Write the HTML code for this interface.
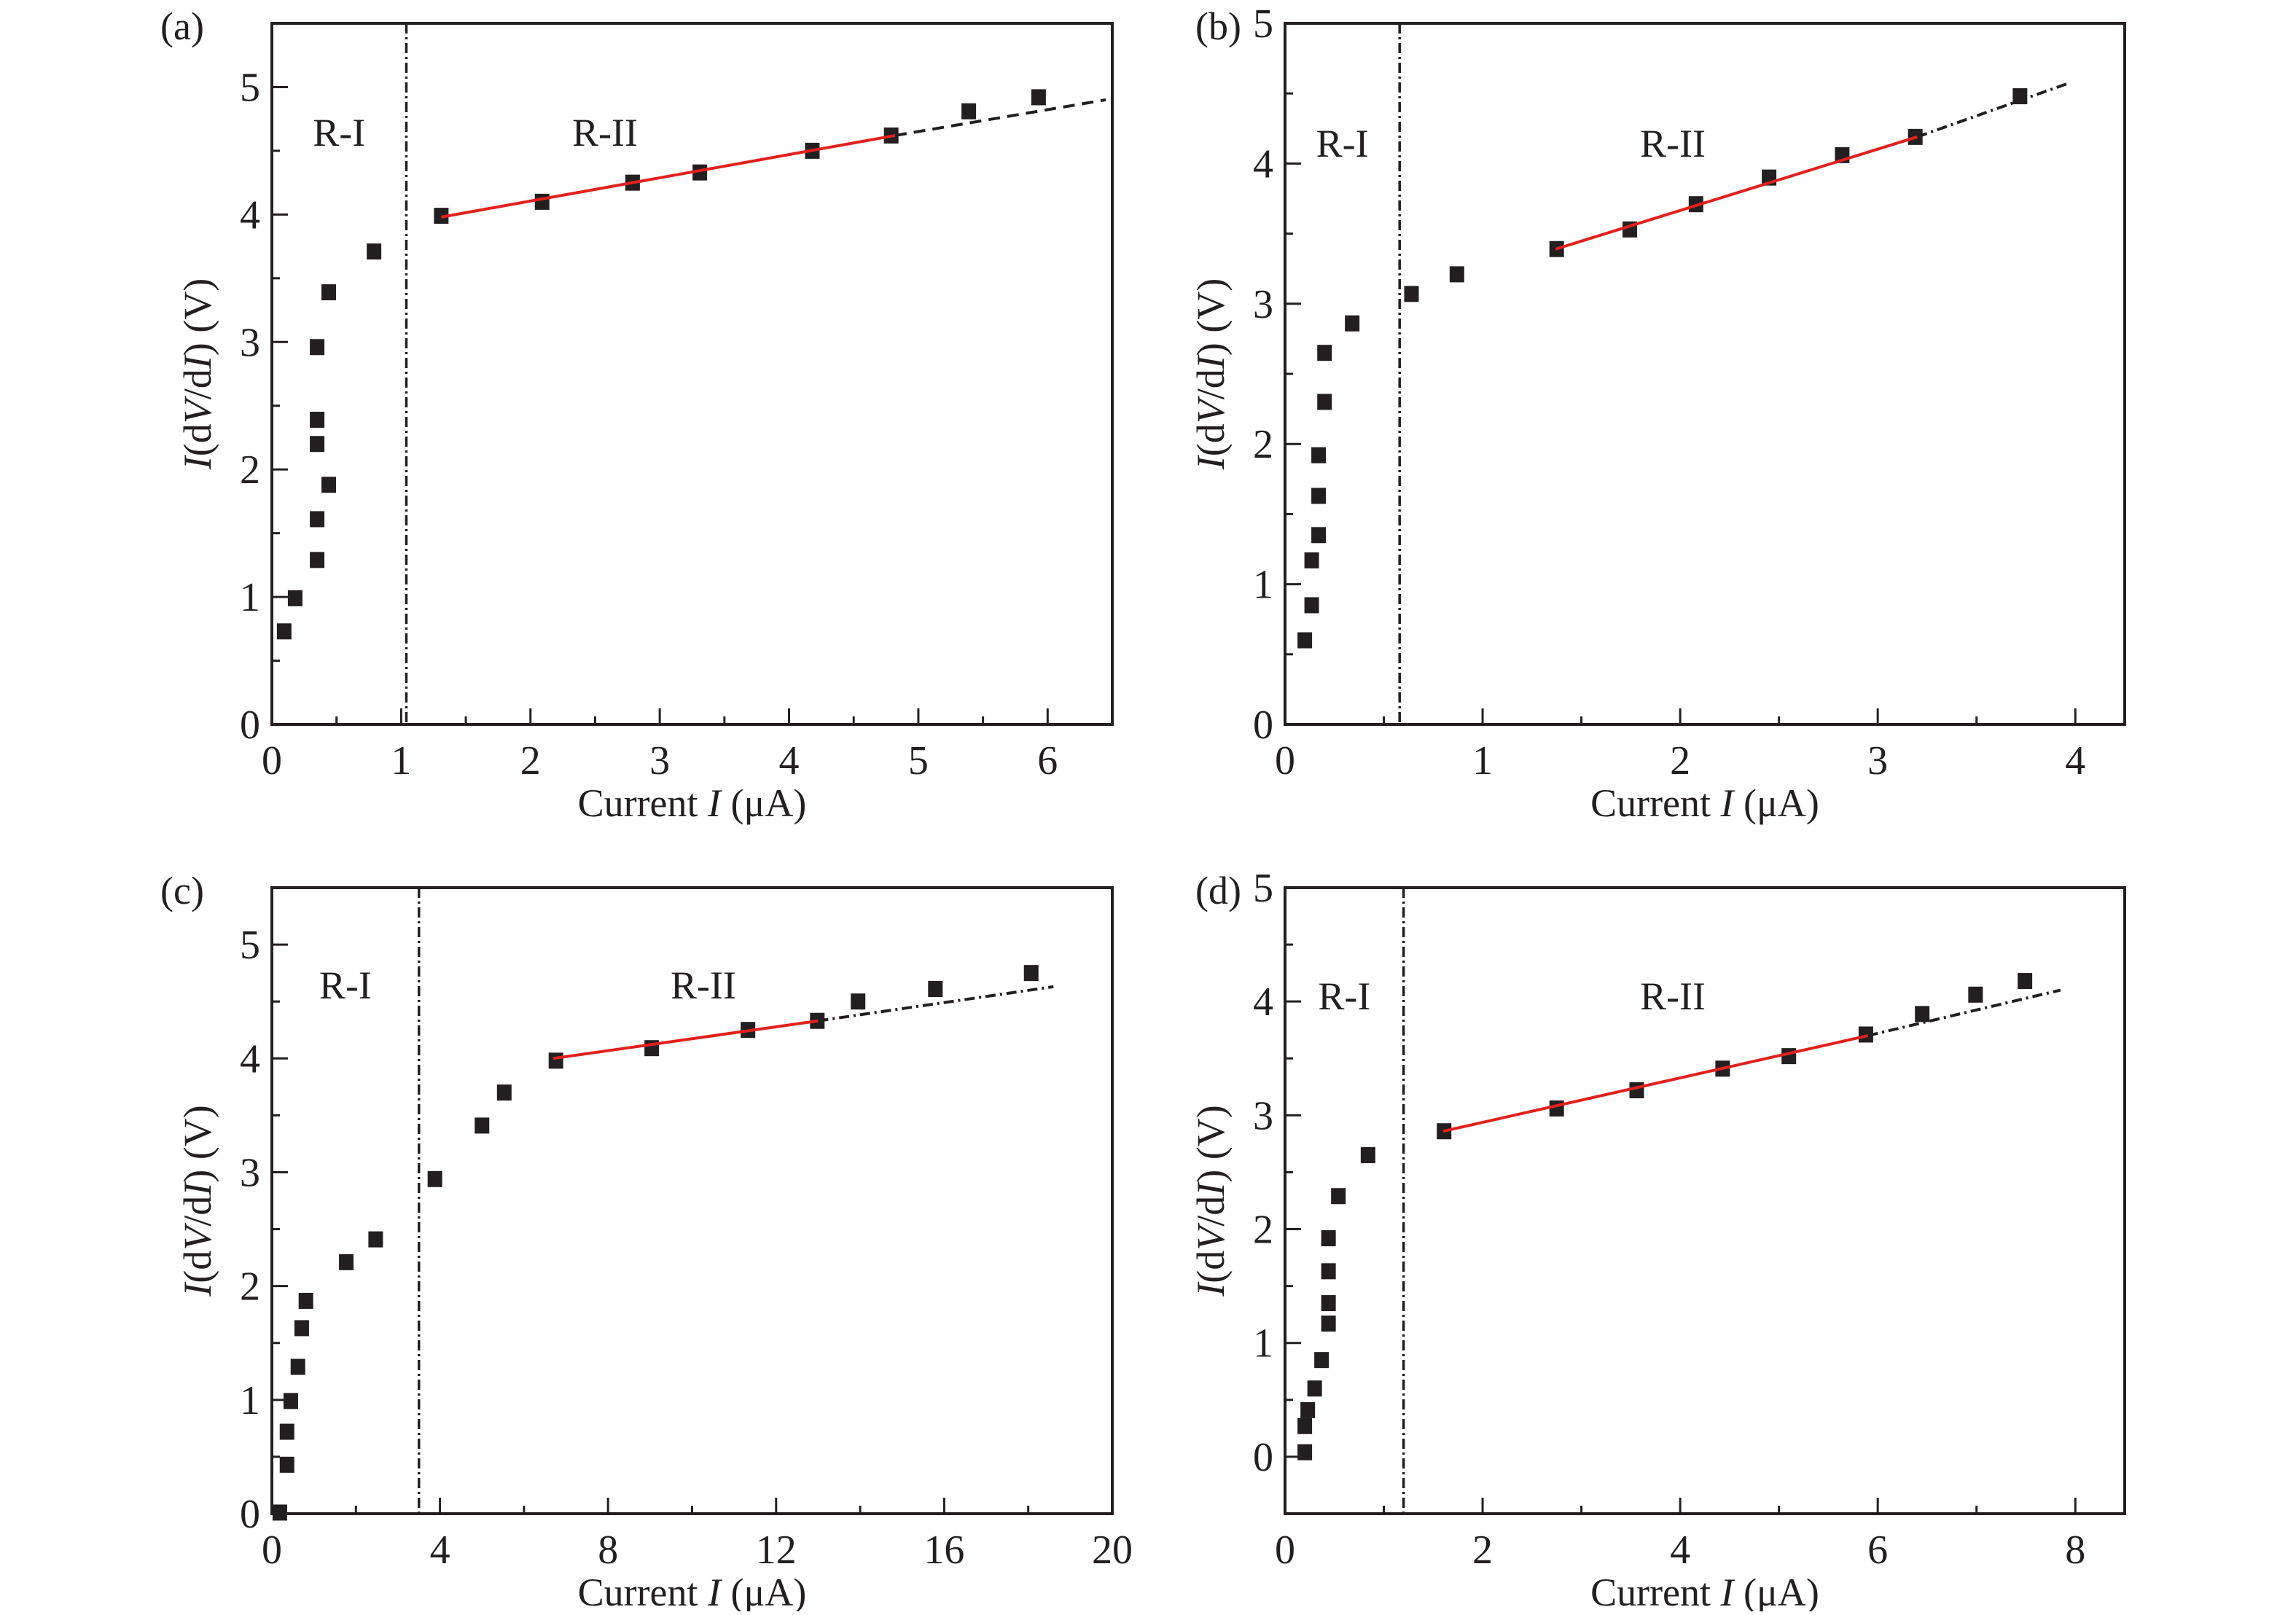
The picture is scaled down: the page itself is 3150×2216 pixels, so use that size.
<!DOCTYPE html>
<html><head><meta charset="utf-8"><style>
html,body{margin:0;padding:0;background:#fff;}
svg text{font-family:"Liberation Serif",serif;fill:#231f20;}
</style></head><body>
<svg id="fig" xmlns="http://www.w3.org/2000/svg" width="3150" height="2211" viewBox="0 0 3150 2211"></svg>
<script>
// Panel (a)
const aX = [0.095,0.18,0.35,0.35,0.44,0.35,0.35,0.35,0.44,0.79,1.31,2.09,2.79,3.31,4.18,4.79,5.39,5.93];
const aY = [0.73,0.99,1.29,1.61,1.88,2.2,2.39,2.96,3.39,3.71,3.99,4.1,4.25,4.33,4.5,4.62,4.81,4.92];
const aFit = [1.31,3.98,4.82,4.62];
const aExt = [4.82,4.62,6.45,4.9];
// Panel (b)
const bX = [0.10,0.135,0.135,0.17,0.17,0.17,0.2,0.2,0.34,0.64,0.87,1.375,1.745,2.08,2.45,2.82,3.19,3.72];
const bY = [0.60,0.85,1.17,1.35,1.63,1.92,2.30,2.65,2.86,3.07,3.21,3.39,3.53,3.71,3.9,4.06,4.19,4.48];
const bFit = [1.37,3.39,3.2,4.19];
const bExt = [3.2,4.19,3.96,4.57];
// Panel (c)
const cX = [0.19,0.36,0.36,0.45,0.62,0.71,0.81,1.77,2.47,3.88,5.0,5.53,6.76,9.04,11.33,12.98,13.95,15.79,18.07];
const cY = [0.01,0.43,0.72,0.99,1.29,1.63,1.87,2.21,2.41,2.94,3.41,3.70,3.98,4.09,4.25,4.33,4.5,4.61,4.75];
const cFit = [6.7,4.0,13.0,4.33];
const cExt = [13.0,4.33,18.6,4.63];
// Panel (d)
const dX = [0.2,0.2,0.23,0.3,0.37,0.44,0.44,0.44,0.44,0.54,0.84,1.61,2.75,3.56,4.43,5.1,5.88,6.45,6.99,7.49];
const dY = [0.04,0.27,0.41,0.6,0.85,1.17,1.35,1.63,1.92,2.29,2.65,2.86,3.06,3.22,3.41,3.52,3.71,3.89,4.06,4.18];
const dFit = [1.6,2.86,5.9,3.7];
const dExt = [5.9,3.7,7.85,4.1];
// Axis ticks
const aXTicks = [0,1,2,3,4,5,6];
const bXTicks = [0,1,2,3,4];
const cXTicks = [0,4,8,12,16,20];
const dXTicks = [0,2,4,6,8];
const aYTicks = [0,1,2,3,4,5];
const bYTicks = [0,1,2,3,4,5];
const cYTicks = [0,1,2,3,4,5];
const dYTicks = [0,1,2,3,4,5];
const aDiv = 1.04, bDiv = 0.58, cDiv = 3.5, dDiv = 1.2;

const NS = "http://www.w3.org/2000/svg";
const svg = document.getElementById('fig');
function mk(tag, attrs, parent, txt){
  const e = document.createElementNS(NS, tag);
  for (const k in attrs) e.setAttribute(k, attrs[k]);
  if (txt !== undefined) e.textContent = txt;
  (parent || svg).appendChild(e);
  return e;
}
function panel(id, box, xr, yr, xs, ys, xticks, yticks, minorX, minorY, div, fit, ext, extDash, label, labelPos){
  const g = mk('g', {});
  
  
  const [L, T, R, B] = box;
  const sx = v => L + (v - xr[0]) / (xr[1] - xr[0]) * (R - L);
  const sy = v => B - (v - yr[0]) / (yr[1] - yr[0]) * (B - T);
  for (let v = xr[0]; v <= xr[1] + 1e-9; v += minorX) {
    const major = xticks.some(t => Math.abs(t - v) < 1e-6);
    const t = mk('line', {x1: sx(v), x2: sx(v), y1: B, y2: B - (major ? 22 : 11), stroke: '#231f20', 'stroke-width': 3}, g);
    
    
  }
  for (let v = Math.ceil(yr[0] / minorY) * minorY; v <= yr[1] + 1e-9; v += minorY) {
    const major = yticks.some(t => Math.abs(t - v) < 1e-6);
    const t = mk('line', {x1: L, x2: L + (major ? 22 : 11), y1: sy(v), y2: sy(v), stroke: '#231f20', 'stroke-width': 3}, g);
    
    
  }
  xticks.forEach(v => {
    const t = mk('text', {x: sx(v), y: B + 68, 'font-size': 56, 'text-anchor': 'middle'}, g, String(v));
    
    
  });
  yticks.forEach(v => {
    const t = mk('text', {x: L - 16, y: sy(v) + 19, 'font-size': 56, 'text-anchor': 'end'}, g, String(v));
    
    
  });
  const fr = mk('rect', {x: L, y: T, width: R - L, height: B - T, fill: 'none', stroke: '#231f20', 'stroke-width': 4}, g);
  
  
  const dv = mk('line', {x1: sx(div), x2: sx(div), y1: T, y2: B, stroke: '#231f20', 'stroke-width': 3.5, 'stroke-dasharray': '14 5 3 5'}, g);
  
  
  const ex = mk('line', {x1: sx(ext[0]), y1: sy(ext[1]), x2: sx(ext[2]), y2: sy(ext[3]), stroke: '#231f20', 'stroke-width': 4, 'stroke-dasharray': extDash}, g);
  
  
  xs.forEach((x, i) => {
    const p = mk('rect', {x: sx(x) - 10, y: sy(ys[i]) - 11, width: 20, height: 22, fill: '#231f20'}, g);
    
    
  });
  const fl = mk('line', {x1: sx(fit[0]), y1: sy(fit[1]), x2: sx(fit[2]), y2: sy(fit[3]), stroke: '#e3201c', 'stroke-width': 4}, g);
  
  
  const r1 = mk('text', {x: (L + sx(div)) / 2, y: labelPos, 'font-size': 54, 'text-anchor': 'middle'}, g, 'R-I');
  
  
  const r2 = mk('text', {x: label[1], y: labelPos, 'font-size': 54, 'text-anchor': 'middle'}, g, 'R-II');
  
  
  const xt = mk('text', {x: (L + R) / 2, y: B + 126, 'font-size': 54, 'text-anchor': 'middle'}, g);
  
  
  xt.innerHTML = 'Current <tspan font-style="italic">I</tspan> (μA)';
  const yt = mk('text', {x: 0, y: 0, 'font-size': 54, 'text-anchor': 'middle', transform: `translate(${L - 84},${(T + B) / 2}) rotate(-90)`}, g);
  
  
  yt.innerHTML = '<tspan font-style="italic">I</tspan>(d<tspan font-style="italic">V</tspan>/d<tspan font-style="italic">I</tspan>) (V)';
  const pl = mk('text', {x: label[2], y: T + 22, 'font-size': 54, 'text-anchor': 'start'}, g, label[0]);
  
  
}
panel('a', [373, 32, 1526, 994], [0, 6.5], [0, 5.5], aX, aY, aXTicks, aYTicks, 0.5, 0.5, aDiv, aFit, aExt, '16 10', ['(a)', 830, 220], 200);
panel('b', [1763, 32, 2915, 994], [0, 4.25], [0, 5], bX, bY, bXTicks, bYTicks, 0.5, 0.5, bDiv, bFit, bExt, '14 6 3 6', ['(b)', 2295, 1640], 215);
panel('c', [373, 1218, 1526, 2077], [0, 20], [0, 5.5], cX, cY, cXTicks, cYTicks, 2, 0.5, cDiv, cFit, cExt, '14 6 3 6', ['(c)', 965, 220], 1370);
panel('d', [1763, 1218, 2915, 2077], [0, 8.5], [-0.5, 5], dX, dY, dXTicks, dYTicks, 1, 0.5, dDiv, dFit, dExt, '14 6 3 6', ['(d)', 2295, 1640], 1385);
</script>
</body></html>
